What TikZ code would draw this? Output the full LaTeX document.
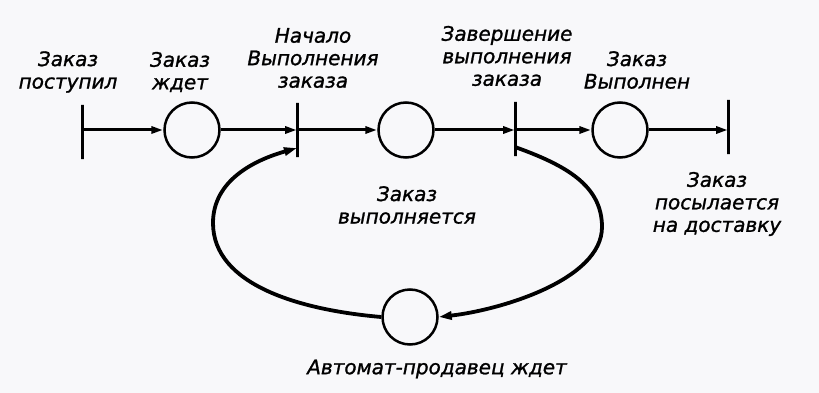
\documentclass[tikz,border=0pt]{standalone}
\usepackage{fontspec}
\setmainfont{DejaVu Sans}
\newfontfamily\lblfont[FakeBold=1.2]{DejaVu Sans Oblique}
\usetikzlibrary{arrows.meta}
\definecolor{bgc}{HTML}{F8F8FA}
\begin{document}
\begin{tikzpicture}[x=1pt,y=-1pt,
  place/.style={circle,draw,line width=2.5pt,minimum size=55pt,inner sep=0pt},
  trans/.style={draw,line width=3pt,minimum width=0pt,minimum height=54pt,inner sep=0pt},
  arc/.style={line width=3pt,-{Triangle[length=12pt,width=7pt]}},
  loop/.style={line width=3.8pt,-{Triangle[length=13pt,width=8pt]}},
  lbl/.style={font=\fontsize{20}{22.5}\lblfont,align=center,inner sep=0pt}]
\fill[bgc] (0,0) rectangle (819,393);
\useasboundingbox (0,0) rectangle (819,393);
% transitions
\node[trans] (t1) at (82,132) {};
\node[trans] (t2) at (297,130) {};
\node[trans] (t3) at (515,129) {};
\node[trans] (t4) at (728,127) {};
% places
\node[place] (p1) at (192,130) {};
\node[place] (p2) at (406,130) {};
\node[place] (p3) at (620,130) {};
\node[place] (p4) at (410,317) {};
% arcs
\draw[arc] (t1.center |- p1.center) -- (p1.west);
\draw[arc] (p1.east) -- (t2.center |- p1.center);
\draw[arc] (t2.center |- p2.center) -- (p2.west);
\draw[arc] (p2.east) -- (t3.center |- p2.center);
\draw[arc] (t3.center |- p3.center) -- (p3.west);
\draw[arc] (p3.east) -- (t4.center |- p3.center);
% loop
\draw[loop] (p4.west) .. controls (300,310) and (213,285) .. (213,223)
  .. controls (213,180) and (255,160) .. ([yshift=-18pt]t2.center);
\draw[loop] ([yshift=-18pt]t3.center) .. controls (565,165) and (602,185) .. (602,227)
  .. controls (602,280) and (500,310) .. (p4.east);
% labels
\node[lbl] (l1) at (68,72) {Заказ\\поступил};
\node[lbl] (l2) at (180,72) {Заказ\\ждет};
\node[lbl] (l3) at (313,58) {Начало\\Выполнения\\заказа};
\node[lbl] (l4) at (507,56) {Завершение\\выполнения\\заказа};
\node[lbl] (l5) at (637,70) {Заказ\\Выполнен};
\node[lbl] (l6) at (717,204) {Заказ\\посылается\\на доставку};
\node[lbl] (l7) at (407,205) {Заказ\\выполняется};
\node[lbl] (l8) at (437,369) {Автомат-продавец ждет};
\end{tikzpicture}
\end{document}
